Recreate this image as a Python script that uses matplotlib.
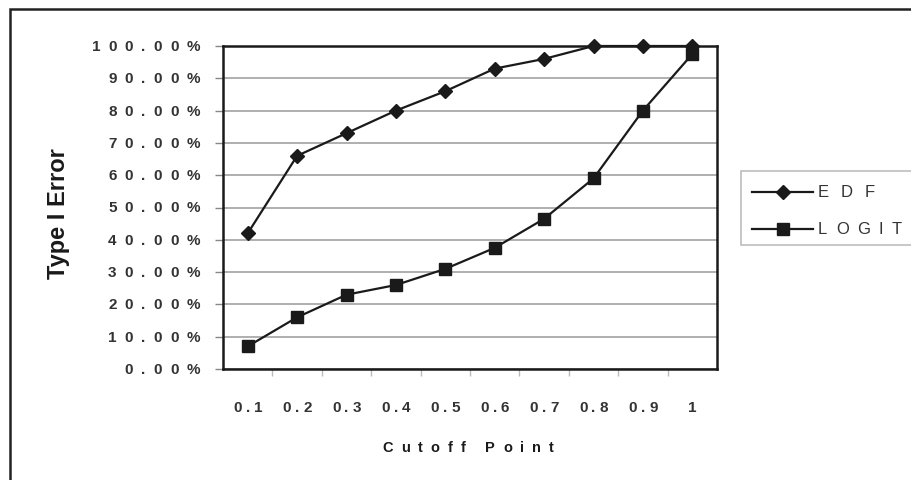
import matplotlib
matplotlib.use("Agg")
import matplotlib.pyplot as plt
from matplotlib.font_manager import FontProperties
from matplotlib.lines import Line2D
from matplotlib.patches import Rectangle
from matplotlib.textpath import TextToPath
from matplotlib.transforms import offset_copy

# ---- data -------------------------------------------------------------------
cutoffs = ["0.1", "0.2", "0.3", "0.4", "0.5", "0.6", "0.7", "0.8", "0.9", "1"]
edf = [42, 66, 73, 80, 86, 93, 96, 100, 100, 100]
logit = [7, 16, 23, 26, 31, 37.5, 46.5, 59, 80, 97.5]
y_ticks = [0, 10, 20, 30, 40, 50, 60, 70, 80, 90, 100]
series_names = ["EDF", "LOGIT"]

# ---- style ------------------------------------------------------------------
W, H, DPI = 911, 481, 100
FONT = "Liberation Sans"
INK = "#1a1a1a"
GRID = "#9a9a9a"
_t2p = TextToPath()


def px(x, y):
    """pixel position (from top-left) -> figure fraction"""
    return x / W, 1 - y / H


def spaced(host, x, y, s, trans, size, track, ha="center",
           weight="bold", color=INK):
    """Draw a string one glyph at a time with extra letter spacing (pixels)."""
    prop = FontProperties(family=FONT, weight=weight, size=size)
    widths = [_t2p.get_text_width_height_descent(c, prop, ismath=False)[0] * DPI / 72
              for c in s]
    total = sum(widths) + track * (len(s) - 1)
    pos = {"center": -total / 2, "right": -total, "left": 0}[ha]
    for c, w in zip(s, widths):
        if c != " ":
            host.text(x, y, c, fontproperties=prop, ha="center", va="center",
                      color=color, zorder=5,
                      transform=offset_copy(trans, fig=fig,
                                            x=pos + w / 2, y=0, units="dots"))
        pos += w + track


fig = plt.figure(figsize=(W / DPI, H / DPI), dpi=DPI)
ax = fig.add_axes([223 / W, 1 - 370 / H, 494 / W, 323 / H])

xs = list(range(len(cutoffs)))
ax.plot(xs, edf, color=INK, lw=1.6, marker="D", ms=7.5, zorder=4, clip_on=False)
ax.plot(xs, logit, color=INK, lw=1.6, marker="s", ms=8.5, zorder=4, clip_on=False)

ax.set_xlim(-0.5, len(cutoffs) - 0.5)
ax.set_ylim(0, 100)
ax.set_yticks(y_ticks)
ax.set_xticks([i + 0.5 for i in xs[:-1]])
ax.set_xticklabels([])
ax.set_yticklabels([])
ax.tick_params(axis="x", length=5, width=1, color="#bbbbbb")
ax.tick_params(axis="y", length=6, width=1, color="#888888")
ax.grid(axis="y", color=GRID, lw=1.1)
ax.set_axisbelow(True)
for sp in ax.spines.values():
    sp.set_color(INK)
    sp.set_linewidth(1.8)

# tick labels, letter-spaced
ytrans = offset_copy(ax.get_yaxis_transform(), fig=fig, x=-23, y=0, units="dots")
for v in y_ticks:
    spaced(ax, 0, v, f"{v:.2f}%", ytrans, 11, 8, ha="right", color="#333333")
xtrans = offset_copy(ax.get_xaxis_transform(), fig=fig, x=0, y=-38, units="dots")
for i, lab in enumerate(cutoffs):
    spaced(ax, i, 0, lab, xtrans, 11, 4, color="#333333")

# axis titles
fig.text(*px(58, 214), "Type I Error", rotation=90, ha="center", va="center",
         family=FONT, weight="bold", size=17, color=INK)
spaced(ax, 0.5, 0, "Cutoff Point",
       offset_copy(ax.transAxes, fig=fig, x=-2, y=-78, units="dots"),
       10.5, 8, color=INK)

# legend drawn by hand
fig.add_artist(Rectangle(px(741, 246), 200 / W, 74 / H, transform=fig.transFigure,
                         facecolor="white", edgecolor="#bdbdbd", lw=1.2,
                         clip_on=False))
for yy, mk, ms, name, track in [(193, "D", 7.5, series_names[0], 11.5),
                                (230, "s", 8.5, series_names[1], 8.5)]:
    x0, y0 = px(752, yy)
    x1, _ = px(813, yy)
    fig.add_artist(Line2D([x0, x1], [y0, y0], transform=fig.transFigure,
                          color=INK, lw=1.6))
    fig.add_artist(Line2D([(x0 + x1) / 2], [y0], transform=fig.transFigure,
                          color=INK, marker=mk, ms=ms))
    spaced(fig, x1, y0, name,
           offset_copy(fig.transFigure, fig=fig, x=5, y=0, units="dots"),
           12, track, ha="left", weight="normal", color="#333333")

# outer chart frame (runs off the right and bottom edges)
fig.add_artist(Rectangle(px(10, 520), 950 / W, 510 / H, transform=fig.transFigure,
                         facecolor="none", edgecolor="#222222", lw=1.8,
                         clip_on=False, zorder=0))

fig.savefig("out.png", dpi=DPI)
